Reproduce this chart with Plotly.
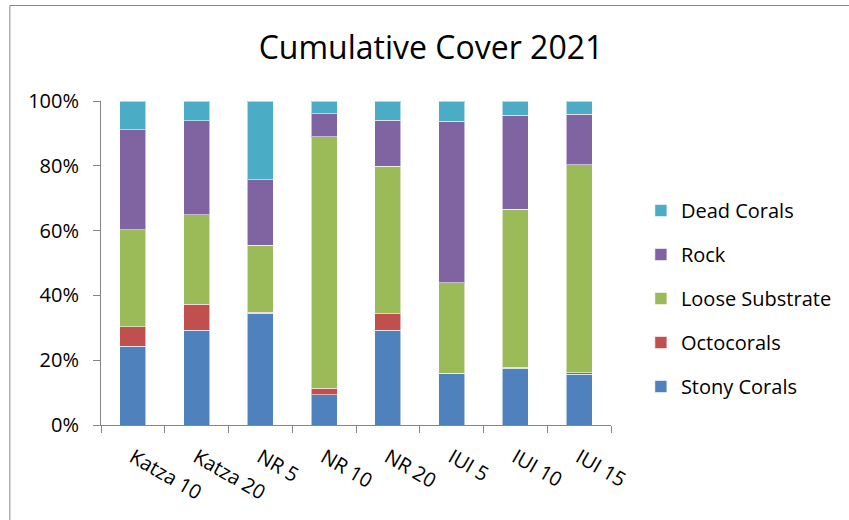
import plotly.graph_objects as go

# Cumulative benthic cover per survey site (percent of transect)
sites = ["Katza 10", "Katza 20", "NR 5", "NR 10", "NR 20", "IUI 5", "IUI 10", "IUI 15"]
stony_corals = [24.3, 29.3, 34.5, 9.3, 29.2, 16.0, 17.5, 15.6]
octocorals = [6.1, 7.9, 0.3, 2.0, 5.2, 0.0, 0.4, 0.5]
loose_substrate = [29.8, 27.7, 20.7, 77.6, 45.4, 27.9, 48.7, 64.3]
rock = [31.0, 29.0, 20.2, 7.2, 14.3, 49.9, 29.0, 15.5]
dead_corals = [8.8, 6.1, 24.3, 3.9, 5.9, 6.2, 4.4, 4.1]
y_ticks = [0, 20, 40, 60, 80, 100]
y_tick_labels = [f"{v}%" for v in y_ticks]

# stacked bottom to top; legend lists them top to bottom
series = [
    ("Stony Corals", stony_corals, "#4F81BD"),
    ("Octocorals", octocorals, "#C0504D"),
    ("Loose Substrate", loose_substrate, "#9BBB59"),
    ("Rock", rock, "#8064A2"),
    ("Dead Corals", dead_corals, "#4BACC6"),
]

FONT = "Open Sans"
W, H = 849, 520
ML, MR, MT, MB = 101, 236, 101, 95
PW = W - ML - MR
PH = H - MT - MB


def px_x(x):
    return (x - ML) / PW


def px_y(y):
    return 1 - (y - MT) / PH


fig = go.Figure()
for i, (name, vals, color) in enumerate(series):
    fig.add_trace(go.Bar(
        x=sites, y=vals, name=name, legendgroup=name, legendrank=100 - i,
        marker=dict(color=color, line=dict(color="rgba(255,255,255,0.55)", width=1)),
    ))

fig.update_layout(
    width=W, height=H,
    margin=dict(l=ML, r=MR, t=MT, b=MB, pad=0),
    barmode="stack", bargap=0.594,
    paper_bgcolor="white", plot_bgcolor="white",
    font=dict(family=FONT, color="#000000", size=20),
    title=dict(text="Cumulative Cover 2021", font=dict(family=FONT, size=32, color="#000000"),
               x=431 / W, xref="container", xanchor="center",
               y=1 - 48 / H, yref="container", yanchor="middle"),
    legend=dict(traceorder="grouped", tracegroupgap=15,
                x=px_x(643), xanchor="left", y=px_y(298.5), yanchor="middle",
                font=dict(family=FONT, size=20), bgcolor="rgba(0,0,0,0)"),
    xaxis=dict(showgrid=False, showline=True, linecolor="#868686", linewidth=1,
               ticks="outside", tickson="boundaries", ticklen=7, tickcolor="#868686",
               tickangle=30, tickfont=dict(family=FONT, size=20), ticklabelstandoff=12),
    yaxis=dict(range=[0, 100], tickmode="array", tickvals=y_ticks, ticktext=y_tick_labels,
               showgrid=False, showline=True, linecolor="#868686", linewidth=1, zeroline=False,
               ticks="outside", ticklen=7, tickcolor="#868686",
               tickfont=dict(family=FONT, size=20), ticklabelstandoff=10),
    shapes=[dict(type="rect", xref="paper", yref="paper",
                 x0=px_x(9.5), x1=px_x(W + 20), y0=px_y(H + 20), y1=px_y(5.5),
                 line=dict(color="#868686", width=1), fillcolor="rgba(0,0,0,0)", layer="below")],
)

fig.write_html("out.html")
